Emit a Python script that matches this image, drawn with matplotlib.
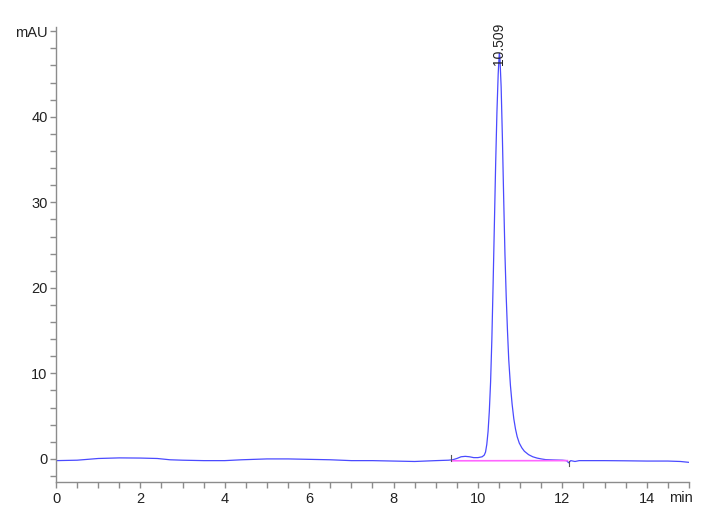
import matplotlib
matplotlib.use("Agg")
import matplotlib.pyplot as plt
from matplotlib.ticker import FixedLocator, MultipleLocator

plt.rcParams['font.family'] = ['Liberation Sans Narrow', 'Liberation Sans', 'DejaVu Sans']

# chromatogram trace (min, mAU)
time_min = [0.0, 0.5, 1.0, 1.5, 2.0, 2.4, 2.7, 3.0, 3.5, 4.0, 4.4, 5.0, 5.5, 6.0,
            6.5, 7.0, 7.5, 8.0, 8.5, 9.0, 9.3, 9.4, 9.5, 9.6, 9.7, 9.8, 9.9, 10.0,
            10.1, 10.15, 10.18, 10.21, 10.24, 10.27, 10.30, 10.33, 10.36, 10.39,
            10.42, 10.45, 10.48, 10.50, 10.509, 10.52, 10.55, 10.58, 10.61, 10.64,
            10.67, 10.70, 10.73, 10.77, 10.81, 10.85, 10.89, 10.93, 10.98, 11.04,
            11.10, 11.20, 11.30, 11.40, 11.50, 11.60, 11.80, 12.00, 12.10, 12.15,
            12.20, 12.30, 12.40, 13.0, 13.5, 14.0, 14.5, 14.8, 15.0]
signal_mau = [-0.2, -0.15, 0.05, 0.12, 0.1, 0.05, -0.1, -0.15, -0.2, -0.2, -0.1, 0.0, 0.0, -0.05,
              -0.1, -0.2, -0.2, -0.25, -0.3, -0.2, -0.15, -0.1, 0.05, 0.25, 0.3, 0.25, 0.15, 0.15,
              0.25, 0.45, 0.8, 1.7, 3.2, 5.6, 9.0, 14.0, 20.5, 27.5,
              34.5, 40.5, 45.0, 47.0, 47.4, 47.0, 43.5, 37.5, 30.5, 24.0,
              19.0, 15.0, 11.6, 8.6, 6.4, 4.7, 3.5, 2.6, 1.85, 1.3,
              0.9, 0.5, 0.25, 0.1, 0.0, -0.08, -0.12, -0.15, -0.2, -0.45,
              -0.2, -0.3, -0.2, -0.2, -0.22, -0.25, -0.25, -0.3, -0.4]

# integration baseline and event marks
base_t = [9.38, 12.12]
base_y = [-0.22, -0.2]
event_t = [9.36, 12.15]
event_lo = [-0.3, -0.8]
event_hi = [0.4, -0.2]

peak_t = 10.509
peak_label = "10.509"

x_ticks = [0, 2, 4, 6, 8, 10, 12, 14]
y_ticks = [0, 10, 20, 30, 40, 50]
y_labels = ['0', '10', '20', '30', '40', 'mAU']

fig = plt.figure(figsize=(7.2, 5.28), dpi=100)
ax = fig.add_axes([0.0778, 0.0871, 0.879, 0.8618])

ax.plot(time_min, signal_mau, color='#4a4aff', linewidth=0.9)
ax.plot(base_t, base_y, color='#ff66ff', linewidth=1.2)
for t, lo, hi in zip(event_t, event_lo, event_hi):
    ax.plot([t, t], [lo, hi], color='#555555', linewidth=0.8)

ax.text(peak_t, 46.0, peak_label, rotation=90, ha='center', va='bottom',
        fontsize=10, color='#222222')

ax.set_xlim(0, 15)
ax.set_ylim(-2.7, 50.5)

ax.xaxis.set_major_locator(FixedLocator(x_ticks))
ax.xaxis.set_minor_locator(MultipleLocator(0.5))
ax.yaxis.set_major_locator(FixedLocator(y_ticks))
ax.set_yticklabels(y_labels)
ax.yaxis.set_minor_locator(MultipleLocator(2))

for side in ['top', 'right']:
    ax.spines[side].set_visible(False)
for side in ['left', 'bottom']:
    ax.spines[side].set_color('#8c8c8c')
    ax.spines[side].set_linewidth(1.0)

ax.tick_params(which='both', direction='out', color='#8c8c8c', labelcolor='#222222',
               labelsize=10.5, width=1.0)
ax.tick_params(axis='x', which='both', length=4, pad=3)
ax.tick_params(axis='y', which='both', length=4, pad=2)

ax.text(14.82, -3.8, 'min', ha='center', va='top', fontsize=10.5, color='#222222')

fig.savefig('out.png', dpi=100)
